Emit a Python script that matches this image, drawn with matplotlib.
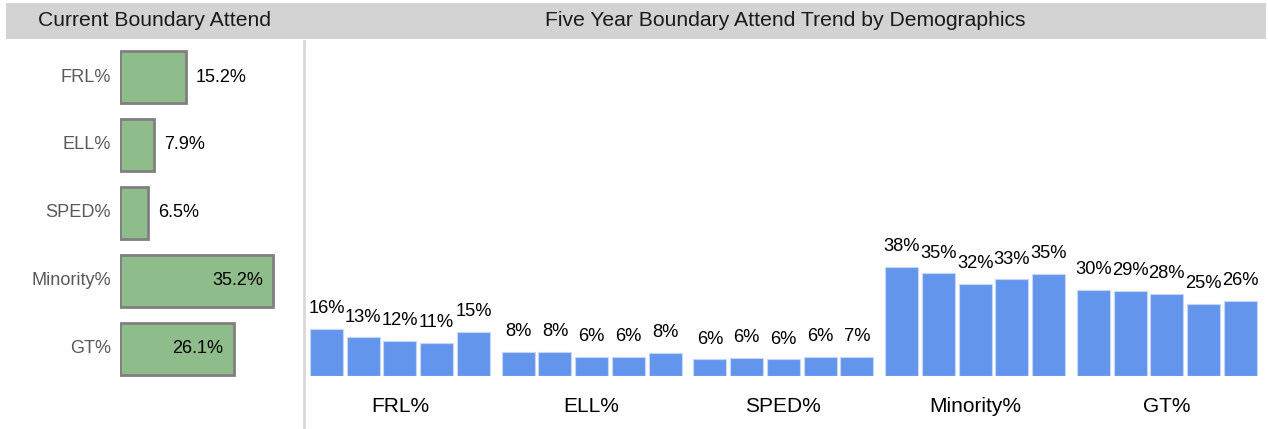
import matplotlib
matplotlib.use("Agg")
import matplotlib.pyplot as plt
from matplotlib.patches import Rectangle
import numpy as np

plt.rcParams['font.family'] = ['Liberation Sans', 'DejaVu Sans']

# ---- data ----
categories = ["FRL%", "ELL%", "SPED%", "Minority%", "GT%"]
current_values = [15.2, 7.9, 6.5, 35.2, 26.1]
trend_values = {
    "FRL%": [16.1, 13.2, 12.1, 11.2, 15.2],
    "ELL%": [8.3, 8.3, 6.4, 6.4, 7.8],
    "SPED%": [5.6, 6.2, 5.6, 6.4, 6.6],
    "Minority%": [37.6, 35.3, 31.6, 33.2, 35.2],
    "GT%": [29.6, 29.2, 28.3, 24.7, 25.9],
}
left_title = "Current Boundary Attend"
right_title = "Five Year Boundary Attend Trend by Demographics"

W, H = 1268, 429
fig = plt.figure(figsize=(W / 100, H / 100), dpi=100)

def fx(px):
    return px / W

def fy(py):
    return 1 - py / H

# header band
fig.patches.append(Rectangle((fx(6), fy(39)), fx(1266) - fx(6), fy(3) - fy(39),
                             transform=fig.transFigure, facecolor='#d3d3d3',
                             edgecolor='none', zorder=0))
fig.text(fx(155), fy(21), left_title, ha='center', va='center', fontsize=15.2, color='#1a1a1a')
fig.text(fx(785), fy(21), right_title, ha='center', va='center', fontsize=15.2, color='#1a1a1a')

# separator line
fig.add_artist(plt.Line2D([fx(303.5), fx(303.5)], [fy(41), fy(429)],
                          transform=fig.transFigure, color='#d9d9d9', lw=2))

# ---- left panel ----
axl = fig.add_axes([fx(120), fy(429), fx(300) - fx(120), fy(42) - fy(429)])
ypos = np.arange(len(categories))
axl.barh(ypos, current_values, height=0.766, color='#8fbc8b', edgecolor='#808080', linewidth=2)
axl.set_xlim(0, 180 / 4.35)
pitch = 67.9
axl.set_ylim((429 - 77) / pitch, -(77 - 42) / pitch)
axl.axis('off')
for y, v, c in zip(ypos, current_values, categories):
    axl.annotate(c, (0, y), xytext=(-9, 0), textcoords='offset pixels',
                 ha='right', va='center', fontsize=13.1, color='#595959')
    if v > 20:
        axl.annotate(f"{v:.1f}%", (v, y), xytext=(-10, 0), textcoords='offset pixels',
                     ha='right', va='center', fontsize=13, color='black')
    else:
        axl.annotate(f"{v:.1f}%", (v, y), xytext=(10, 0), textcoords='offset pixels',
                     ha='left', va='center', fontsize=13, color='black')

# ---- right panel ----
base_px = 375.7
axr = fig.add_axes([fx(306), fy(base_px), fx(1268) - fx(306), fy(42) - fy(base_px)])
group_gap = 5.22
centers = []
for i, c in enumerate(categories):
    vals = trend_values[c]
    xs = i * group_gap + np.arange(len(vals))
    bars = axr.bar(xs, vals, width=0.9, color='#6495ed', edgecolor='#c6d6f6', linewidth=0.8)
    axr.bar_label(bars, labels=[f"{v:.0f}%" for v in vals], padding=8.5, fontsize=13.2, color='black')
    centers.append(xs.mean())
pxu = 36.73
axr.set_xlim(-(326.5 - 306) / pxu, 4 * group_gap + 4 + (1268 - 1240.3) / pxu)
axr.set_ylim(0, (base_px - 42) / 2.9)
axr.set_xticks(centers)
axr.set_xticklabels(categories, fontsize=15)
axr.tick_params(axis='x', length=0, pad=15)
axr.set_yticks([])
for s in axr.spines.values():
    s.set_visible(False)

fig.savefig("out.png", dpi=100)
